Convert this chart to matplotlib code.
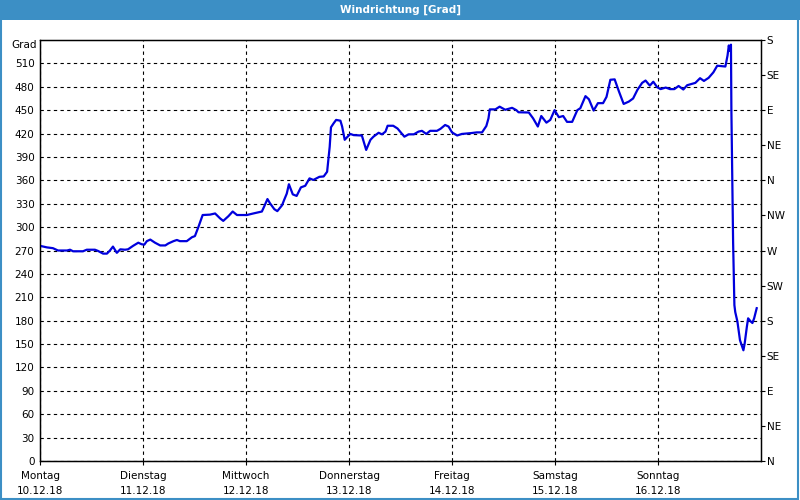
import matplotlib
matplotlib.use("Agg")
import matplotlib.pyplot as plt
from matplotlib.patches import Rectangle

# Stunden seit Montag 00:00 und Windrichtung in Grad
hours = [0.0, 1.6, 3.0, 4.2, 6.3, 7.0, 7.7, 10.0, 10.9, 12.8, 13.5, 14.7, 15.6, 16.3,
         17.0, 17.9, 18.7, 19.8, 20.5, 21.7, 22.9, 23.7, 24.3, 24.9, 25.7, 26.8,
         28.0, 29.2, 29.9, 31.1, 31.9, 32.6, 34.2, 35.4, 36.1, 36.9, 37.9, 39.6,
         40.8, 42.0, 42.7, 43.9, 44.9, 45.9, 48.2, 49.7, 51.7, 52.2, 53.0, 53.6,
         54.6, 55.3, 56.4, 56.9, 57.5, 58.0, 58.9, 59.8, 60.8, 61.8, 62.8, 63.7,
         65.1, 66.1, 66.9, 67.5, 67.8, 68.4, 69.0, 70.0, 70.4, 71.0, 71.5, 72.3,
         73.1, 75.0, 76.0, 77.0, 77.7, 78.9, 79.7, 80.5, 81.0, 82.3, 83.3, 84.9,
         85.9, 87.1, 88.2, 89.0, 90.0, 90.9, 92.5, 93.3, 94.4, 95.2, 96.0, 97.2,
         98.3, 100.3, 101.8, 103.0, 104.0, 104.5, 104.8, 106.1, 107.1, 108.4,
         110.0, 111.0, 111.5, 113.9, 114.9, 116.0, 116.8, 118.0, 118.9, 119.9,
         120.9, 121.9, 122.8, 124.0, 125.2, 125.9, 127.1, 127.9, 129.0, 130.0,
         131.2, 132.0, 132.9, 133.9, 134.9, 136.0, 137.2, 138.2, 139.2, 140.3,
         141.1, 142.1, 142.9, 143.8, 144.6, 145.8, 146.8, 147.8, 148.8, 149.9,
         150.8, 152.7, 153.8, 154.7, 155.8, 156.9, 157.8, 159.7, 160.2, 160.5,
         160.7, 161.0, 161.1, 161.3, 161.5, 161.8, 162.0, 162.5, 163.1, 163.6,
         163.9, 164.2, 164.7, 165.0, 165.6, 166.0, 166.4, 167.0]
grad = [276, 274, 273, 270, 270, 271, 269, 269, 271, 271, 269.5, 266, 266, 270,
        275, 267, 271.5, 271, 271.5, 276, 280, 278, 277.5, 282, 284, 280,
        276.5, 276.5, 279, 282, 283.5, 282, 282, 287, 288.5, 300, 315.5, 316,
        317.5, 311, 308, 314, 320, 315.5, 315.5, 317.5, 320, 326, 336, 330.5,
        323, 320.5, 328, 335, 343, 355, 342, 340, 351, 353, 362.5, 360.5,
        364.5, 365, 371, 403, 428, 433, 437.5, 436.5, 429, 412, 415, 419.5,
        418, 417.5, 399, 412, 416, 421, 419, 422.5, 430, 430, 426.5, 416,
        419, 419, 422.5, 423.5, 419.5, 423.5, 423.5, 426, 431, 429, 421.5, 417.5,
        419.5, 420.5, 421.5, 421.5, 429.7, 439.5, 451, 451, 454.5, 450.5,
        453, 450, 447.3, 447, 439.5, 429, 442.5, 434, 437.5, 450,
        441, 442.5, 435, 435, 450, 452.5, 468, 464, 449.5, 459,
        459, 467, 489, 489.5, 474, 458, 461, 465, 476, 485,
        488, 481.5, 486.5, 479.5, 477, 479, 477, 477, 481, 476.5,
        482, 485, 491, 487.5, 491.5, 498.5, 507, 506, 520, 533,
        526, 534, 450, 365, 281, 200, 191, 179, 155, 147,
        142, 151, 172, 183, 179, 177, 183, 196]

day_labels = ["Montag\n10.12.18", "Dienstag\n11.12.18", "Mittwoch\n12.12.18",
              "Donnerstag\n13.12.18", "Freitag\n14.12.18", "Samstag\n15.12.18",
              "Sonntag\n16.12.18"]
left_ticks = list(range(0, 511, 30))
right_ticks = list(range(0, 541, 45))
right_labels = ["N", "NE", "E", "SE", "S", "SW", "W", "NW", "N", "NE", "E", "SE", "S"]

plt.rcParams['font.family'] = ['DejaVu Sans']

fig = plt.figure(figsize=(8, 5), dpi=100)
fig.patch.set_facecolor("white")

# Titelleiste und Rahmen
fig.patches.append(Rectangle((0, 0.96), 1, 0.04, transform=fig.transFigure,
                             facecolor="#3c8fc5", edgecolor="none", zorder=0))
fig.patches.append(Rectangle((0.001, 0.002), 0.997, 0.996, transform=fig.transFigure,
                             facecolor="none", edgecolor="#3c8fc5", lw=1.5, zorder=1))
fig.text(0.5, 0.98, "Windrichtung [Grad]", color="white", fontsize=7.5,
         fontweight="bold", ha="center", va="center")

ax = fig.add_axes([0.05, 0.078, 0.90125, 0.842])
days = [h / 24 for h in hours]
ax.plot(days, grad, color="#0000dd", lw=1.6, zorder=3)

ax.set_xlim(0, 7)
ax.set_ylim(0, 540)
ax.set_yticks(left_ticks)
ax.set_yticklabels([str(t) for t in left_ticks], fontsize=7.5)
ax.set_xticks(range(7))
ax.set_xticklabels(day_labels, fontsize=7.5, linespacing=1.6)
ax.tick_params(axis="y", length=0, pad=4)
ax.tick_params(axis="x", length=3, pad=4)
ax.grid(True, color="black", linestyle=(0, (3, 3)), lw=0.8)
for s in ax.spines.values():
    s.set_linewidth(1.0)
# Einheit oben links
ax.text(-0.005, 0.988, "Grad", transform=ax.transAxes, fontsize=7.5,
        ha="right", va="center")

ax2 = ax.twinx()
ax2.set_ylim(0, 540)
ax2.set_yticks(right_ticks)
ax2.set_yticklabels(right_labels, fontsize=7.5)
ax2.tick_params(axis="y", length=3, pad=1)

fig.savefig("out.png", dpi=100)
